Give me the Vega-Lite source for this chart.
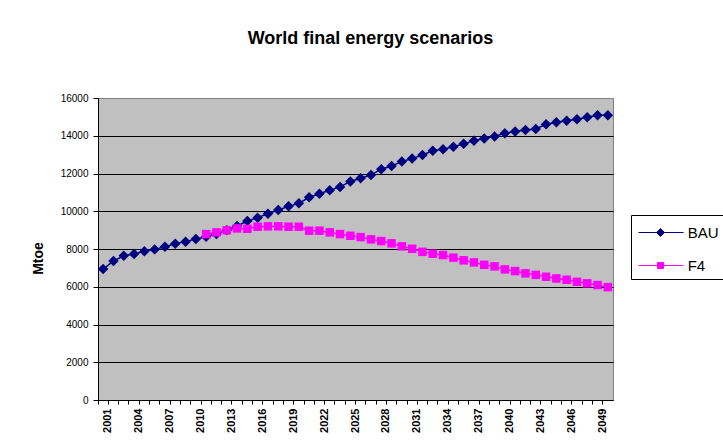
{
  "$schema": "https://vega.github.io/schema/vega-lite/v6.json",
  "autosize": "none",
  "width": 515,
  "height": 302,
  "padding": {"left": 98, "top": 98, "right": 110, "bottom": 48},
  "background": "white",
  "title": {
    "text": "World final energy scenarios",
    "font": "Liberation Sans",
    "fontSize": 18,
    "fontWeight": "bold",
    "color": "black",
    "frame": "group",
    "anchor": "middle",
    "dx": 15,
    "offset": 45
  },
  "data": {
    "values": [
      {"year": 2001, "series": "BAU", "value": 6940},
      {"year": 2002, "series": "BAU", "value": 7360},
      {"year": 2003, "series": "BAU", "value": 7640},
      {"year": 2004, "series": "BAU", "value": 7730},
      {"year": 2005, "series": "BAU", "value": 7880},
      {"year": 2006, "series": "BAU", "value": 7980},
      {"year": 2007, "series": "BAU", "value": 8120},
      {"year": 2008, "series": "BAU", "value": 8280},
      {"year": 2009, "series": "BAU", "value": 8390},
      {"year": 2010, "series": "BAU", "value": 8530},
      {"year": 2011, "series": "BAU", "value": 8650},
      {"year": 2012, "series": "BAU", "value": 8790},
      {"year": 2013, "series": "BAU", "value": 9000},
      {"year": 2014, "series": "BAU", "value": 9220},
      {"year": 2015, "series": "BAU", "value": 9480},
      {"year": 2016, "series": "BAU", "value": 9660},
      {"year": 2017, "series": "BAU", "value": 9870},
      {"year": 2018, "series": "BAU", "value": 10070},
      {"year": 2019, "series": "BAU", "value": 10260},
      {"year": 2020, "series": "BAU", "value": 10420},
      {"year": 2021, "series": "BAU", "value": 10740},
      {"year": 2022, "series": "BAU", "value": 10930},
      {"year": 2023, "series": "BAU", "value": 11110},
      {"year": 2024, "series": "BAU", "value": 11290},
      {"year": 2025, "series": "BAU", "value": 11580},
      {"year": 2026, "series": "BAU", "value": 11750},
      {"year": 2027, "series": "BAU", "value": 11920},
      {"year": 2028, "series": "BAU", "value": 12230},
      {"year": 2029, "series": "BAU", "value": 12400},
      {"year": 2030, "series": "BAU", "value": 12630},
      {"year": 2031, "series": "BAU", "value": 12790},
      {"year": 2032, "series": "BAU", "value": 12980},
      {"year": 2033, "series": "BAU", "value": 13200},
      {"year": 2034, "series": "BAU", "value": 13290},
      {"year": 2035, "series": "BAU", "value": 13420},
      {"year": 2036, "series": "BAU", "value": 13570},
      {"year": 2037, "series": "BAU", "value": 13740},
      {"year": 2038, "series": "BAU", "value": 13850},
      {"year": 2039, "series": "BAU", "value": 13960},
      {"year": 2040, "series": "BAU", "value": 14130},
      {"year": 2041, "series": "BAU", "value": 14220},
      {"year": 2042, "series": "BAU", "value": 14310},
      {"year": 2043, "series": "BAU", "value": 14360},
      {"year": 2044, "series": "BAU", "value": 14610},
      {"year": 2045, "series": "BAU", "value": 14720},
      {"year": 2046, "series": "BAU", "value": 14800},
      {"year": 2047, "series": "BAU", "value": 14880},
      {"year": 2048, "series": "BAU", "value": 14980},
      {"year": 2049, "series": "BAU", "value": 15090},
      {"year": 2050, "series": "BAU", "value": 15080},
      {"year": 2011, "series": "F4", "value": 8790},
      {"year": 2012, "series": "F4", "value": 8880},
      {"year": 2013, "series": "F4", "value": 8990},
      {"year": 2014, "series": "F4", "value": 9090},
      {"year": 2015, "series": "F4", "value": 9070},
      {"year": 2016, "series": "F4", "value": 9180},
      {"year": 2017, "series": "F4", "value": 9200},
      {"year": 2018, "series": "F4", "value": 9200},
      {"year": 2019, "series": "F4", "value": 9180},
      {"year": 2020, "series": "F4", "value": 9180},
      {"year": 2021, "series": "F4", "value": 8970},
      {"year": 2022, "series": "F4", "value": 8970},
      {"year": 2023, "series": "F4", "value": 8880},
      {"year": 2024, "series": "F4", "value": 8790},
      {"year": 2025, "series": "F4", "value": 8700},
      {"year": 2026, "series": "F4", "value": 8630},
      {"year": 2027, "series": "F4", "value": 8510},
      {"year": 2028, "series": "F4", "value": 8420},
      {"year": 2029, "series": "F4", "value": 8300},
      {"year": 2030, "series": "F4", "value": 8140},
      {"year": 2031, "series": "F4", "value": 8010},
      {"year": 2032, "series": "F4", "value": 7850},
      {"year": 2033, "series": "F4", "value": 7750},
      {"year": 2034, "series": "F4", "value": 7680},
      {"year": 2035, "series": "F4", "value": 7540},
      {"year": 2036, "series": "F4", "value": 7400},
      {"year": 2037, "series": "F4", "value": 7290},
      {"year": 2038, "series": "F4", "value": 7160},
      {"year": 2039, "series": "F4", "value": 7080},
      {"year": 2040, "series": "F4", "value": 6920},
      {"year": 2041, "series": "F4", "value": 6830},
      {"year": 2042, "series": "F4", "value": 6710},
      {"year": 2043, "series": "F4", "value": 6630},
      {"year": 2044, "series": "F4", "value": 6530},
      {"year": 2045, "series": "F4", "value": 6440},
      {"year": 2046, "series": "F4", "value": 6370},
      {"year": 2047, "series": "F4", "value": 6260},
      {"year": 2048, "series": "F4", "value": 6180},
      {"year": 2049, "series": "F4", "value": 6090},
      {"year": 2050, "series": "F4", "value": 5980}
    ]
  },
  "encoding": {
    "x": {
      "field": "year",
      "type": "ordinal",
      "scale": {"type": "band", "paddingInner": 0, "paddingOuter": 0},
      "axis": {
        "title": null,
        "labelAngle": -90,
        "labelExpr": "(datum.value - 2001) % 3 == 0 ? datum.label : ''",
        "bandPosition": 0,
        "labelOffset": 5.15,
        "labelFont": "Liberation Sans",
        "labelFontWeight": "bold",
        "labelFontSize": 11,
        "labelColor": "black",
        "labelPadding": 4,
        "labelOverlap": false,
        "labelBound": false,
        "tickSize": 4,
        "tickColor": "black",
        "domainColor": "black",
        "grid": false
      }
    },
    "y": {
      "field": "value",
      "type": "quantitative",
      "scale": {"domain": [0, 16000], "nice": false},
      "axis": {
        "title": "Mtoe",
        "titleFont": "Liberation Sans",
        "titleFontSize": 14,
        "titleFontWeight": "bold",
        "titleColor": "black",
        "titleAngle": -90,
        "titleX": -60,
        "titleY": 160,
        "titleAlign": "center",
        "titleBaseline": "middle",
        "values": [0, 2000, 4000, 6000, 8000, 10000, 12000, 14000, 16000],
        "format": "d",
        "labelFont": "Liberation Sans",
        "labelFontSize": 10,
        "labelColor": "black",
        "labelPadding": 5,
        "tickSize": 5,
        "tickColor": "black",
        "domainColor": "black",
        "grid": true,
        "gridColor": {"condition": {"test": "datum.value == 16000", "value": "#808080"}, "value": "black"},
        "gridOpacity": 1,
        "gridWidth": 1
      }
    }
  },
  "layer": [
    {
      "mark": {"type": "line", "strokeWidth": 1.5},
      "encoding": {
        "stroke": {
          "field": "series",
          "type": "nominal",
          "scale": {"domain": ["BAU", "F4"], "range": ["#000080", "#FF00FF"]}
        }
      }
    },
    {
      "transform": [{"filter": "datum.series == 'BAU'"}],
      "mark": {"type": "point", "shape": "diamond", "filled": true, "fill": "#000080", "size": 110, "opacity": 1}
    },
    {
      "transform": [{"filter": "datum.series == 'F4'"}],
      "mark": {"type": "point", "shape": "square", "filled": true, "fill": "#FF00FF", "size": 72, "opacity": 1}
    },
    {
      "mark": {"type": "point", "filled": true, "opacity": 0, "size": 576},
      "encoding": {
        "shape": {
          "field": "series",
          "type": "nominal",
          "scale": {"domain": ["BAU", "F4"], "range": ["M-0.83,0H2.92M1,-0.33L1.33,0L1,0.33L0.67,0Z", "M-0.83,0H2.92M0.75,-0.25H1.25V0.25H0.75Z"]}
        },
        "fill": {
          "field": "series",
          "type": "nominal",
          "scale": {"domain": ["BAU", "F4"], "range": ["#000080", "#FF00FF"]}
        },
        "stroke": {
          "field": "series",
          "type": "nominal",
          "scale": {"domain": ["BAU", "F4"], "range": ["#000080", "#FF00FF"]}
        }
      }
    }
  ],
  "config": {
    "view": {"fill": "#C0C0C0", "stroke": "#808080", "strokeWidth": 1},
    "font": "Liberation Sans",
    "legend": {
      "title": null,
      "orient": "none",
      "legendX": 533,
      "legendY": 117,
      "padding": 5,
      "strokeColor": "black",
      "fillColor": "white",
      "symbolSize": 576,
      "symbolStrokeWidth": 1,
      "symbolOpacity": 1,
      "labelFont": "Liberation Sans",
      "labelFontSize": 15,
      "labelColor": "black",
      "labelOffset": 26.7,
      "rowPadding": 12
    }
  }
}
